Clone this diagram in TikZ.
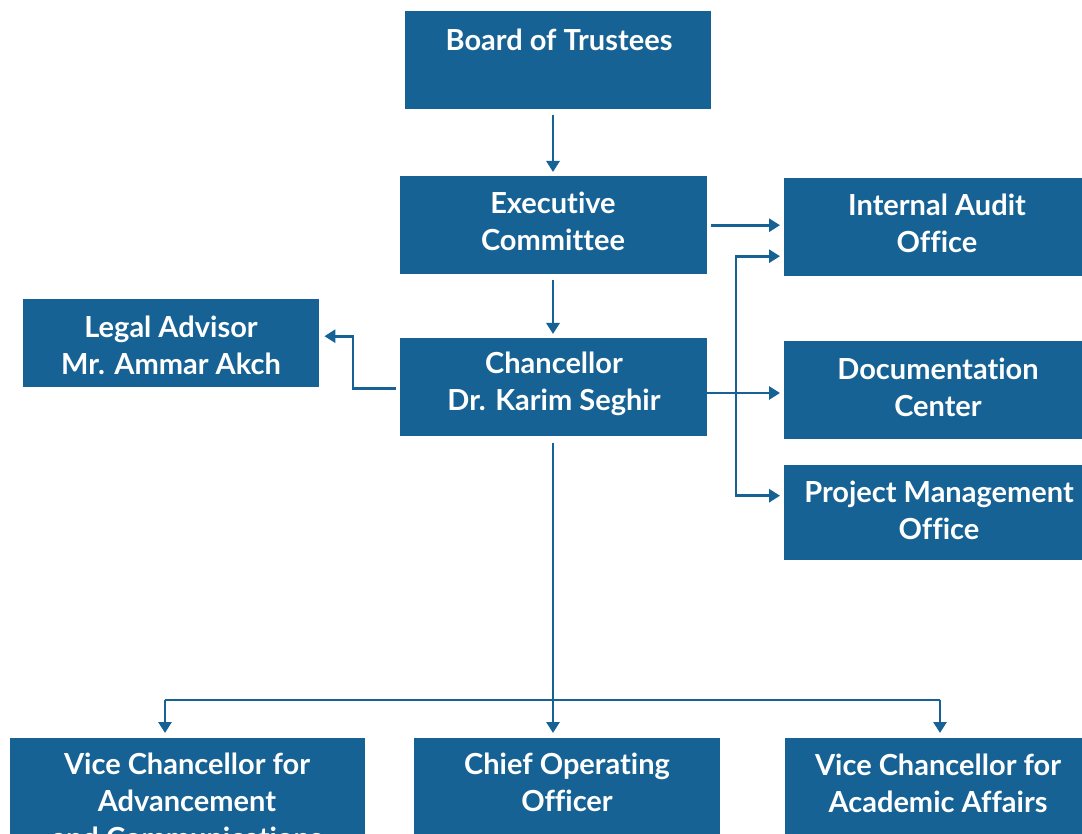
\documentclass[tikz,border=0pt]{standalone}
\usepackage{fontspec}
\setmainfont{Lato}[Ligatures=NoCommon]
\usetikzlibrary{arrows.meta,calc}
\definecolor{boxblue}{HTML}{166294}
\tikzset{
  orgbox/.style={fill=boxblue, draw=none, inner sep=0pt, anchor=north west},
  orgtxt/.style={text=white, align=center, font=\bfseries\fontsize{29}{37}\selectfont, inner sep=0pt},
  conn/.style={draw=boxblue, line width=2.8pt, -{Triangle[length=11pt,width=13pt]}},
  plain/.style={draw=boxblue, line width=2.8pt}
}
\begin{document}
\begin{tikzpicture}[x=1pt,y=1pt]
\useasboundingbox (0,0) rectangle (1082,-834);
\clip (0,0) rectangle (1082,-834);
% boxes
\node[orgbox, minimum width=306pt, minimum height=98pt] (board) at (405,-11) {};
\node[orgbox, minimum width=307pt, minimum height=98pt] (exec) at (400,-176) {};
\node[orgbox, minimum width=308pt, minimum height=98pt] (ia) at (784,-178) {};
\node[orgbox, minimum width=296pt, minimum height=88pt] (legal) at (23,-299) {};
\node[orgbox, minimum width=307pt, minimum height=98pt] (chan) at (400,-338) {};
\node[orgbox, minimum width=308pt, minimum height=98pt] (doc) at (784,-341) {};
\node[orgbox, minimum width=308pt, minimum height=95pt] (pmo) at (784,-465) {};
\node[orgbox, minimum width=355pt, minimum height=120pt] (vca) at (10,-738) {};
\node[orgbox, minimum width=306pt, minimum height=120pt] (coo) at (414,-738) {};
\node[orgbox, minimum width=308pt, minimum height=120pt] (vcac) at (785,-738) {};
% texts
\node[orgtxt] (tboard) at (559,-40) {Board of Trustees};
\node[orgtxt] (texec) at (553,-221) {Executive\\Committee};
\node[orgtxt] (tia) at (937,-223.5) {Internal Audit\\Office};
\node[orgtxt] (tlegal) at (171,-345.5) {Legal Advisor\\Mr. Ammar Akch};
\node[orgtxt] (tchan) at (554,-384) {Chancellor\\Dr. Karim Seghir};
\node[orgtxt] (tdoc) at (938,-387) {Documentation\\Center};
\node[orgtxt] (tpmo) at (939,-510.5) {Project Management\\Office};
\node[orgtxt] (tvca) at (187,-801) {Vice Chancellor for\\Advancement\\and Communications};
\node[orgtxt] (tcoo) at (567,-782.5) {Chief Operating\\Officer};
\node[orgtxt] (tvcac) at (938,-783.5) {Vice Chancellor for\\Academic Affairs};
% connectors
\coordinate (c0) at (553,-115);
\draw[conn] (c0) -- (c0 |- {$(exec.north)+(0,4)$});
\draw[conn] ($(exec.east)+(4,0)$) -- ($(ia.west |- exec.east)+(-4,0)$);
\coordinate (c1) at (553,-280);
\draw[conn] (c1) -- (c1 |- {$(chan.north)+(0,4)$});
\draw[conn] ($(chan.west)+(-4,-1)$) -- ++(-43,0) |- ($(legal.east)+(5,7)$);
\coordinate (jn) at (736,-393);
\draw[conn] (chan.east |- jn) -- ($(doc.west |- jn)+(-4,0)$);
\draw[conn] (jn) |- ($(ia.west)+(-4,-29)$);
\draw[conn] (jn) |- ($(pmo.west)+(-4,17)$);
\coordinate (bus) at (553,-700);
\coordinate (bl) at (165,-700);
\coordinate (br) at (940,-700);
\draw[plain] (bus |- {$(chan.south)+(0,-7)$}) -- (bus);
\draw[plain] (bl) -- (br);
\draw[conn] (bl) -- (bl |- {$(vca.north)+(0,5)$});
\draw[conn] (bus) -- (bus |- {$(coo.north)+(0,5)$});
\draw[conn] (br) -- (br |- {$(vcac.north)+(0,5)$});
\end{tikzpicture}
\end{document}
